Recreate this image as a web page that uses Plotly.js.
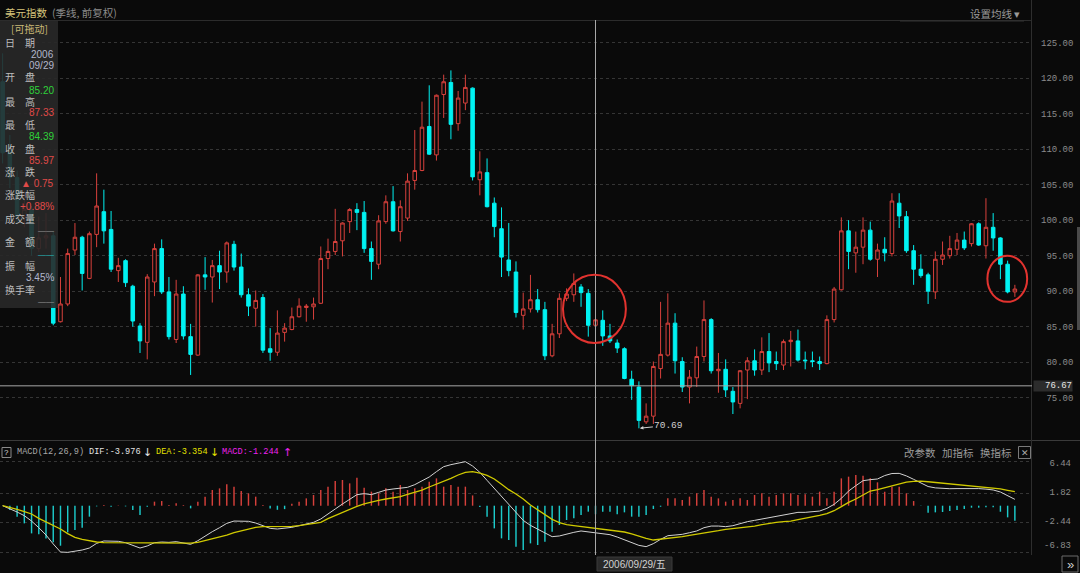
<!DOCTYPE html>
<html><head><meta charset="utf-8">
<script src="https://cdn.plot.ly/plotly-3.0.1.min.js"></script>
<style>html,body{margin:0;padding:0;background:#0a0a0a;}#chart{width:1080px;height:573px;}</style>
</head><body><div id="chart"></div>
<script>
// ---------- DATA (US Dollar Index, quarterly) ----------
const firstYear = 1986;
const quarters = [];
for (let k = 0; k < 141; k++) quarters.push((firstYear + Math.floor(k / 4)) + 'Q' + (k % 4 + 1));

const openP = [119.5,109.5,106.0,100.5,101.5,96.0,97.5,97.8,
85.7,88.2,95.8,97.6,91.8,98.0,101.2,98.7,92.9,94.3,90.7,85.1,
82.8,91.3,96.0,89.9,83.2,89.6,83.6,81.0,92.3,92.0,
93.6,92.7,96.6,93.4,89.5,87.6,89.1,81.9,81.4,84.2,
84.6,86.4,87.7,87.8,88.3,94.6,95.6,97.1,99.8,101.5,
101.1,96.0,93.8,99.8,102.6,98.4,100.3,105.6,107.0,113.2,
109.2,117.7,119.4,113.6,116.5,118.6,105.7,106.7,102.4,98.8,
94.4,92.7,86.6,87.5,88.8,87.4,80.9,84.0,89.0,89.5,
90.6,89.7,85.20,85.9,83.7,82.7,81.9,77.6,76.5,71.6,
72.4,79.1,81.0,85.5,80.1,76.5,77.8,80.8,86.0,78.8,
79.0,75.9,74.2,78.9,80.2,78.9,81.5,80.1,79.6,82.9,
83.0,80.3,80.2,80.1,79.8,86.0,90.2,98.5,95.4,96.2,
98.6,94.5,95.9,95.3,102.4,100.5,95.7,93.1,92.3,89.9,
94.5,95.0,95.9,97.2,96.7,99.5,96.4,99.0,97.5,93.8,
89.9];
const highP = [123.5,112.0,107.0,104.0,102.0,100.5,101.0,98.5,
92.0,96.0,99.6,97.8,98.4,106.6,104.3,101.3,94.7,94.5,90.9,85.5,
92.4,96.7,97.3,92.0,91.6,90.7,85.4,92.4,94.8,94.4,
95.7,97.0,97.1,95.3,90.4,90.1,89.6,84.8,87.3,85.5,
87.7,89.0,88.2,89.1,96.3,97.4,101.6,99.7,101.7,102.4,
102.7,97.0,100.7,103.5,104.8,102.8,106.6,112.7,116.7,119.0,
117.7,120.5,121.1,118.2,120.5,118.7,109.7,108.7,103.2,101.8,
99.6,94.2,89.8,92.3,90.3,88.5,85.4,89.7,90.4,92.5,
91.0,90.3,87.33,87.3,85.4,83.2,82.1,78.8,77.3,74.2,
80.1,88.5,89.7,86.9,80.7,78.9,82.2,88.7,86.2,81.3,
80.4,76.5,78.9,80.7,81.8,83.5,84.1,81.5,83.2,84.4,
84.6,81.5,81.5,80.8,86.6,90.6,100.4,100.0,98.4,100.4,
99.8,96.7,97.6,103.8,103.8,101.3,96.5,95.2,92.6,95.6,
97.0,97.8,98.2,98.4,99.6,99.7,103.1,101.0,97.6,94.3,
90.9];
const lowP = [108.0,104.5,99.5,99.0,95.0,95.5,96.0,85.2,
85.6,87.9,95.1,90.1,91.7,96.2,96.7,92.7,91.3,90.6,85.0,81.3,
80.4,89.3,89.6,83.2,82.7,83.2,78.2,80.9,90.2,88.4,
90.3,91.2,92.9,89.1,86.5,85.0,81.3,80.2,80.9,82.9,
84.5,86.3,85.7,86.0,88.2,93.1,95.1,94.9,98.2,98.6,
95.4,91.6,93.1,99.5,98.4,97.0,99.9,104.3,106.9,109.2,
108.4,114.4,111.4,112.6,115.5,105.6,103.5,101.8,97.6,92.0,
92.1,86.3,84.6,87.0,87.0,80.3,80.7,83.4,88.6,88.5,
87.8,83.6,84.39,82.3,82.7,81.3,77.6,74.7,70.69,71.3,
71.3,77.7,80.8,78.4,75.8,74.2,76.5,80.1,78.4,75.7,
75.1,72.7,73.5,74.8,78.1,78.2,78.6,78.9,78.9,79.4,
80.1,79.0,79.3,78.9,79.7,85.6,90.1,93.1,92.6,93.8,
94.3,92.0,94.2,94.9,98.9,95.4,90.9,91.9,88.2,88.9,
93.7,94.6,95.1,95.8,96.3,96.4,94.6,95.7,91.7,89.7,
89.2];
const closeP = [109.5,106.0,100.5,101.5,96.0,97.5,97.8,85.5,
88.2,95.3,97.6,92.5,98.1,102.0,98.5,93.1,93.6,91.2,85.8,83.0,
92.0,96.0,89.9,83.6,89.6,83.7,81.1,92.3,92.0,93.6,
92.7,96.8,93.4,89.5,87.9,88.7,81.7,81.4,84.1,84.8,
86.4,87.9,87.9,88.2,94.6,95.6,97.0,99.6,101.5,101.1,
96.0,94.2,99.9,102.6,98.5,101.9,105.5,107.0,113.1,109.3,
117.6,119.5,113.5,117.2,118.7,106.1,106.8,101.9,99.1,94.8,
92.9,87.0,87.5,88.8,87.4,80.9,84.0,89.0,89.6,91.1,
89.8,85.2,85.97,83.7,83.0,82.0,77.7,76.7,71.8,72.4,
79.4,81.1,85.5,80.2,76.5,77.9,80.8,86.0,78.8,79.0,
76.1,74.4,78.8,80.2,78.9,81.5,79.9,79.8,82.9,83.1,
80.3,80.2,80.1,79.8,86.0,90.3,98.5,95.6,96.2,98.6,
94.5,95.8,95.4,102.7,100.6,95.7,93.1,92.2,90.0,94.5,
95.1,96.0,97.2,96.1,99.5,96.5,99.0,97.5,93.8,89.9,
90.3];

const difV = [0.00,-0.43,-0.92,-1.46,-2.24,-3.21,-4.28,-5.59,-6.76,-6.81,
-6.66,-6.47,-6.18,-5.50,-5.15,-5.15,-5.20,-5.40,-5.79,-6.18,
-5.88,-5.40,-5.30,-5.35,-5.25,-5.50,-5.64,-5.11,-4.42,-3.79,
-3.21,-2.58,-2.24,-2.24,-2.28,-2.53,-2.97,-3.31,-3.40,-3.31,
-3.16,-2.92,-2.72,-2.43,-1.94,-1.16,-0.48,0.25,0.98,1.61,
1.76,1.61,1.95,2.29,2.44,2.53,2.68,3.07,3.60,4.19,
4.97,5.70,5.99,6.23,6.43,5.79,4.87,3.70,2.53,1.32,
0.05,-1.12,-2.14,-2.87,-3.45,-3.94,-4.52,-4.42,-4.13,-3.89,
-3.69,-3.84,-3.976,-4.08,-4.23,-4.57,-4.96,-5.40,-5.79,-5.98,
-5.54,-4.91,-4.38,-4.28,-4.18,-3.94,-3.69,-3.21,-2.97,-2.97,
-3.06,-2.92,-2.62,-2.33,-2.14,-1.94,-1.75,-1.60,-1.41,-1.16,
-0.97,-0.97,-0.87,-0.78,-0.39,0.20,1.07,2.14,2.92,3.65,
3.80,3.90,4.40,4.70,4.72,4.35,3.85,3.36,2.80,2.60,
2.50,2.48,2.50,2.52,2.54,2.50,2.42,2.30,2.00,1.50,
0.93];
const deaV = [0.00,-0.24,-0.53,-0.87,-1.21,-1.85,-2.33,-2.87,-3.40,-4.08,
-4.62,-4.91,-5.15,-5.30,-5.40,-5.40,-5.40,-5.40,-5.45,-5.50,
-5.50,-5.50,-5.50,-5.50,-5.50,-5.50,-5.45,-5.35,-5.11,-4.81,
-4.57,-4.28,-3.94,-3.65,-3.35,-3.16,-3.06,-3.06,-3.06,-3.06,
-3.01,-2.92,-2.77,-2.62,-2.43,-1.89,-1.46,-0.97,-0.48,-0.09,
0.25,0.54,0.78,0.98,1.12,1.32,1.66,1.95,2.29,2.73,
3.12,3.51,3.99,4.48,4.87,4.97,4.77,4.43,3.90,3.12,
2.34,1.71,0.98,0.10,-0.63,-1.36,-1.99,-2.48,-2.77,-2.92,
-3.06,-3.16,-3.354,-3.40,-3.55,-3.69,-3.84,-4.13,-4.47,-4.77,
-5.01,-4.91,-4.81,-4.72,-4.52,-4.33,-4.18,-3.99,-3.84,-3.65,
-3.45,-3.35,-3.26,-3.11,-2.97,-2.77,-2.58,-2.43,-2.33,-2.24,
-2.04,-1.85,-1.65,-1.41,-1.16,-0.73,-0.14,0.49,0.98,1.61,
2.14,2.35,2.60,2.90,3.20,3.45,3.55,3.60,3.50,3.40,
3.30,3.20,3.15,3.05,2.95,2.85,2.75,2.60,2.45,2.25,
2.05];
const macdV = [0,-0.63,-1.60,-2.58,-4.04,-4.18,-4.77,-5.35,-5.84,-3.89,
-3.55,-3.21,-1.60,-0.10,0.10,-0.15,0.05,-0.10,-0.63,-1.36,
-0.15,0.59,0.68,0.10,0.34,0.10,-0.39,0.59,1.32,2.29,
2.53,3.12,2.78,2.14,1.80,1.32,0.10,-0.40,-0.60,-0.50,
0.30,0.59,1.07,1.56,2.29,2.78,3.61,3.75,3.26,4.09,
2.63,2.05,1.80,2.53,2.05,3.02,2.29,2.53,2.78,3.51,
3.99,2.78,3.02,2.78,2.78,1.50,-0.20,-1.60,-3.31,-4.77,
-5.01,-5.98,-6.47,-5.50,-5.74,-5.25,-3.79,-2.82,-2.09,-1.85,
-1.36,-0.87,-1.244,-0.87,-0.87,-1.26,-0.97,-1.60,-1.60,-1.36,
-0.48,-0.15,1.07,1.07,0.83,1.32,1.80,2.29,1.32,1.07,
0.59,0.83,1.07,0.83,1.56,1.80,1.32,1.56,1.80,1.80,
1.56,1.66,1.32,2.05,1.07,2.05,3.99,4.24,4.48,4.38,
3.99,3.41,2.05,2.78,2.78,1.80,0.68,-0.05,-1.02,-0.97,
-0.92,-0.78,-0.63,-0.49,-0.29,-0.29,-0.24,-0.24,-0.88,-1.70,
-2.19];

const priceTicks = [75, 80, 85, 90, 95, 100, 105, 110, 115, 120, 125];
const priceTickText = ['\u00a075.00','\u00a080.00','\u00a085.00','\u00a090.00','\u00a095.00','100.00','105.00','110.00','115.00','120.00','125.00'];
const macdTicks = [6.44, 1.82, -2.44, -6.83];
const macdTickText = ['\u00a06.44', '\u00a01.82', '-2.44', '-6.83'];

const crossIndex = 82;          // 2006/09/29
const crossPrice = 76.67;
const lowIndex = 88, lowValue = 70.69;

// ---------- STYLE ----------
const BG = '#0a0a0a';
const RED = '#d8413c';
const CYAN = '#00f2f2';
const HRED = '#d6403b';
const HCYAN = '#1ccaca';
const CJK = '"Noto Sans CJK SC", "Noto Sans", sans-serif';
const MONO = '"Liberation Mono", "DejaVu Sans Mono", monospace';
const SANS = '"Liberation Sans", Arial, sans-serif';
const ARROWF = '"DejaVu Sans", sans-serif';

const W = 1032, PH = 535, TOP = 20;
const px = x => x / W;
const py = y => (555 - y) / PH;

const xIdx = quarters.map((q, i) => i);

const traces = [
  {type: 'candlestick', x: xIdx, open: openP, high: highP, low: lowP, close: closeP,
   xaxis: 'x', yaxis: 'y', whiskerwidth: 0, hoverinfo: 'skip', text: quarters,
   increasing: {line: {color: RED, width: 1}, fillcolor: BG},
   decreasing: {line: {color: CYAN, width: 1}, fillcolor: CYAN}},
  {type: 'bar', x: xIdx, y: macdV, xaxis: 'x', yaxis: 'y2', width: 0.2, hoverinfo: 'skip',
   marker: {color: macdV.map(v => v >= 0 ? HRED : HCYAN), line: {width: 0}}},
  {type: 'scatter', mode: 'lines', x: xIdx, y: difV, xaxis: 'x', yaxis: 'y2', hoverinfo: 'skip',
   line: {color: '#d2d2d2', width: 1}},
  {type: 'scatter', mode: 'lines', x: xIdx, y: deaV, xaxis: 'x', yaxis: 'y2', hoverinfo: 'skip',
   line: {color: '#d0ca00', width: 1.3}}
];

function T(x, y, text, color, size, anchor, family, extra) {
  return Object.assign({xref: 'paper', yref: 'paper', x: px(x), y: py(y), text: text, showarrow: false,
    xanchor: anchor || 'left', yanchor: 'middle', font: {family: family || CJK, size: size || 10, color: color || '#bdbdbd'}}, extra || {});
}

const LBL = '#bdbdbd', DATEC = '#b2b6cc', GRN = '#2fd13a', RD = '#e04a48';
const annotations = [
  // header
  T(3, 12, '美元指数', '#d6c57c', 10.5),
  T(50, 12, '(季线, 前复权)', '#8c8c8c', 10.5),
  T(1022, 13, '设置均线 ▾', '#9a9a9a', 10.5, 'right'),
  // info panel
  T(29, 29, '[可拖动]', '#c9b877', 10, 'center'),
  T(3, 43, '日　期', LBL), T(56, 54.5, '2006', DATEC, 10, 'right', SANS), T(56, 65.5, '09/29', DATEC, 10, 'right', SANS),
  T(3, 77, '开　盘', LBL), T(56, 90, '85.20', GRN, 10, 'right', SANS),
  T(3, 101, '最　高', LBL), T(56, 113, '87.33', RD, 10, 'right', SANS),
  T(3, 124.5, '最　低', LBL), T(56, 136.5, '84.39', GRN, 10, 'right', SANS),
  T(3, 148, '收　盘', LBL), T(56, 160, '85.97', RD, 10, 'right', SANS),
  T(3, 171.5, '涨　跌', LBL), T(56, 183.5, '▲ 0.75', RD, 10, 'right', SANS),
  T(3, 194, '涨跌幅', LBL), T(56, 206.5, '+0.88%', RD, 10, 'right', SANS),
  T(3, 218, '成交量', LBL), T(56, 230, '——', '#9a9a9a', 8, 'right', SANS),
  T(3, 241.5, '金　额', LBL), T(56, 254, '——', '#26c6c6', 8, 'right', SANS),
  T(3, 265.5, '振　幅', LBL), T(56, 277.5, '3.45%', DATEC, 10, 'right', SANS),
  T(3, 289, '换手率', LBL), T(56, 301, '——', '#9a9a9a', 8, 'right', SANS),
  // crosshair price label
  {xref: 'paper', yref: 'y', x: px(1033), y: crossPrice, text: String(crossPrice), showarrow: false,
   xanchor: 'left', yanchor: 'middle', width: 38, height: 10, align: 'right', bgcolor: '#2c2c2c', borderpad: 0,
   font: {family: MONO, size: 9, color: '#e6e6e6'}},
  // lowest point marker
  {xref: 'x', yref: 'y', x: lowIndex, y: lowValue, text: lowValue.toFixed(2), showarrow: true,
   ax: 30, ay: -3, arrowhead: 2, arrowsize: 0.7, arrowwidth: 1, arrowcolor: '#d0d0d0', standoff: 1,
   font: {family: MONO, size: 9.5, color: '#d0d0d0'}},
  // MACD header
  T(6.5, 452.5, '?', '#dddddd', 8, 'center', SANS),
  T(15, 452, 'MACD(12,26,9)', '#a8a8a8', 8.6, 'left', MONO),
  T(87, 452, 'DIF:' + difV[crossIndex].toFixed(3), '#e2e2e2', 8.6, 'left', MONO),
  T(141, 452, '↓', '#e2e2e2', 11, 'left', ARROWF),
  T(154, 452, 'DEA:' + deaV[crossIndex].toFixed(3), '#e4e000', 8.6, 'left', MONO),
  T(208, 452, '↓', '#e4e000', 11, 'left', ARROWF),
  T(220, 452, 'MACD:' + macdV[crossIndex].toFixed(3), '#ee22ee', 8.6, 'left', MONO),
  T(281, 452, '↑', '#ee22ee', 11, 'left', ARROWF),
  T(920, 452, '改参数', '#9a9a9a', 10.5, 'center'),
  T(958, 452, '加指标', '#9a9a9a', 10.5, 'center'),
  T(996, 452, '换指标', '#9a9a9a', 10.5, 'center'),
  T(1024.5, 452.5, '✕', '#aaaaaa', 9, 'center', ARROWF),
  // bottom date
  T(634, 564, '2006/09/29/五', '#d2d2d2', 10, 'center', SANS + ', ' + CJK),
  T(1070, 564, '»', '#cfcfcf', 13, 'center', SANS)
];
// MACD right-side labels
const macdLabelShift = [-2, 0, 0, 6];
macdTicks.forEach((v, k) => annotations.push({xref: 'paper', yref: 'y2', x: px(1073), y: v, yshift: macdLabelShift[k],
  text: macdTickText[k], showarrow: false, xanchor: 'right', yanchor: 'middle',
  font: {family: MONO, size: 9, color: '#8c8c8c'}}));

const shapes = [
  // frame lines
  {type: 'line', xref: 'paper', yref: 'paper', x0: 0, x1: px(1031), y0: py(20.5), y1: py(20.5), line: {color: '#2c2c2c', width: 1}},
  {type: 'line', xref: 'paper', yref: 'paper', x0: px(900), x1: px(1024), y0: py(21), y1: py(21), line: {color: '#333', width: 1}},
  {type: 'line', xref: 'paper', yref: 'paper', x0: 0, x1: px(1080), y0: py(440.5), y1: py(440.5), line: {color: '#3a3a3a', width: 1}},
  {type: 'line', xref: 'paper', yref: 'paper', x0: px(1031.5), x1: px(1031.5), y0: py(555), y1: py(0), line: {color: '#2e2e2e', width: 1}},
  {type: 'rect', xref: 'paper', yref: 'paper', x0: px(1077), x1: px(1080), y0: py(330), y1: py(227), line: {width: 0}, fillcolor: '#4a4a4a'},
  // info panel
  {type: 'rect', xref: 'paper', yref: 'paper', x0: 0, x1: px(58), y0: py(308), y1: py(21), line: {width: 0}, fillcolor: 'rgba(40,40,40,0.9)'},
  // crosshair
  {type: 'line', xref: 'x', yref: 'paper', x0: crossIndex, x1: crossIndex, y0: 0, y1: 1, line: {color: '#a8a8a8', width: 1}},
  {type: 'line', xref: 'paper', yref: 'y', x0: 0, x1: 1, y0: crossPrice, y1: crossPrice, line: {color: '#a8a8a8', width: 1}},
  // highlight circles
  {type: 'circle', xref: 'x', yref: 'y', x0: 77.5, x1: 86.2, y0: 82.7, y1: 92.3, line: {color: '#e2332f', width: 2}},
  {type: 'circle', xref: 'x', yref: 'y', x0: 136.2, x1: 141.7, y0: 88.5, y1: 95.0, line: {color: '#e2332f', width: 2}},
  // small boxes
  {type: 'rect', xref: 'paper', yref: 'paper', x0: px(2), x1: px(11), y0: py(457.5), y1: py(447.5), line: {color: '#8a8a8a', width: 1}},
  {type: 'rect', xref: 'paper', yref: 'paper', x0: px(1018.5), x1: px(1030.5), y0: py(458.5), y1: py(446.5), line: {color: '#7a7a7a', width: 1}},
  {type: 'rect', xref: 'paper', yref: 'paper', x0: px(597), x1: px(672), y0: py(571), y1: py(557), line: {color: '#3a3a3a', width: 1}, fillcolor: '#2a2a2a'},
  {type: 'rect', xref: 'paper', yref: 'paper', x0: px(1062), x1: px(1078), y0: py(572), y1: py(556), line: {color: '#6a6a6a', width: 1}}
];

const layout = {
  width: 1080, height: 573,
  margin: {l: 0, r: 48, t: TOP, b: 18, pad: 0},
  paper_bgcolor: BG, plot_bgcolor: BG,
  showlegend: false, dragmode: false,
  font: {family: CJK, color: '#bdbdbd'},
  xaxis: {range: [-0.365, 142.37], visible: false, showgrid: false, zeroline: false,
          rangeslider: {visible: false}, fixedrange: true},
  yaxis: {domain: [0.21495, 1], range: [69.042, 128.197], side: 'right',
          tickvals: priceTicks, ticktext: priceTickText, ticks: '', ticklabelstandoff: 8,
          tickfont: {family: MONO, size: 9, color: '#8c8c8c'},
          showgrid: true, gridcolor: '#353535', griddash: 'dot', gridwidth: 1,
          zeroline: false, showline: false, fixedrange: true},
  yaxis2: {domain: [0, 0.17757], range: [-7.197, 6.672], anchor: 'x',
           tickvals: macdTicks, showticklabels: false, ticks: '',
           showgrid: true, gridcolor: '#353535', griddash: 'dot', gridwidth: 1,
           zeroline: false, showline: false, fixedrange: true},
  shapes: shapes,
  annotations: annotations
};

Plotly.newPlot('chart', traces, layout, {displayModeBar: false, staticPlot: true});
</script>
</body></html>
